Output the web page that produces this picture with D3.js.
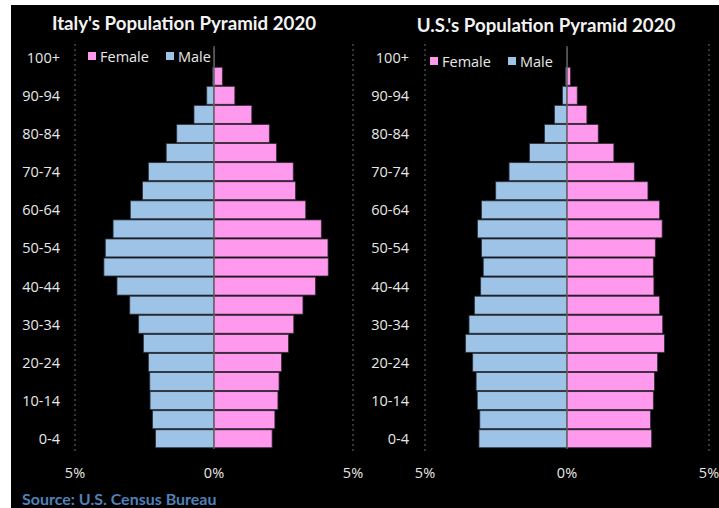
<!DOCTYPE html>
<html><head><meta charset="utf-8">
<script src="https://cdn.jsdelivr.net/npm/d3@7"></script>
<style>body{margin:0;background:#fff;}svg{display:block;}</style>
</head><body>
<svg id="c" width="719" height="508"></svg>
<script>
// ---- data (bottom row first) ----
const ageGroups = ["0-4","5-9","10-14","15-19","20-24","25-29","30-34","35-39","40-44","45-49",
  "50-54","55-59","60-64","65-69","70-74","75-79","80-84","85-89","90-94","95-99","100+"];
const tickLabels = ["0-4","10-14","20-24","30-34","40-44","50-54","60-64","70-74","80-84","90-94","100+"];
const xTicks = [-5, 0, 5];
const italyMale   = [2.10,2.21,2.30,2.31,2.36,2.54,2.71,3.03,3.49,3.96,3.91,3.63,3.01,2.57,2.36,1.72,1.34,0.72,0.26,0.05,0.00];
const italyFemale = [2.09,2.19,2.30,2.34,2.43,2.68,2.87,3.20,3.65,4.11,4.10,3.86,3.30,2.93,2.85,2.25,1.99,1.36,0.75,0.30,0.02];
const usMale      = [3.10,3.07,3.16,3.20,3.32,3.57,3.45,3.26,3.04,2.95,3.01,3.15,3.01,2.51,2.04,1.32,0.79,0.44,0.16,0.05,0.00];
const usFemale    = [2.98,2.94,3.04,3.08,3.19,3.43,3.37,3.26,3.06,3.04,3.11,3.35,3.26,2.85,2.37,1.65,1.10,0.70,0.36,0.12,0.01];
const titles = ["Italy's Population Pyramid 2020", "U.S.'s Population Pyramid 2020"];
const seriesNames = ["Female", "Male"];
const sourceText = "Source: U.S. Census Bureau";

const FEMALE = "#ff99ee", MALE = "#9dc3e6";
const FONT = "Lato, 'Open Sans', sans-serif";
const LFONT = "'Open Sans', Lato, sans-serif";

const svg = d3.select("#c");
svg.append("rect").attr("x", 11).attr("y", 5).attr("width", 708).attr("height", 503).attr("fill", "#000");

const y = d3.scaleBand().domain(ageGroups.slice().reverse()).range([47.6, 448.3]).paddingInner(0.06).paddingOuter(0.03);

function panel(cfg) {
  const g = svg.append("g");
  const x = d3.scaleLinear().domain([-5, 5]).range(cfg.range);
  // gridlines at +-5%
  g.selectAll("line.grid").data([-5, 5]).join("line")
    .attr("x1", d => x(d)).attr("x2", d => x(d)).attr("y1", 44).attr("y2", 452)
    .attr("stroke", "#5a5a5a").attr("stroke-width", 1.2).attr("stroke-dasharray", "2,3");
  // male bars
  g.selectAll("rect.m").data(ageGroups.map((a, i) => ({a, v: cfg.male[i]}))).join("rect")
    .attr("x", d => x(-d.v)).attr("width", d => x(0) - x(-d.v))
    .attr("y", d => y(d.a)).attr("height", y.bandwidth())
    .attr("fill", MALE).attr("stroke", "#2e3440").attr("stroke-width", 0.8);
  // female bars
  g.selectAll("rect.f").data(ageGroups.map((a, i) => ({a, v: cfg.female[i]}))).join("rect")
    .attr("x", x(0)).attr("width", d => x(d.v) - x(0))
    .attr("y", d => y(d.a)).attr("height", y.bandwidth())
    .attr("fill", FEMALE).attr("stroke", "#3a2a3a").attr("stroke-width", 0.8);
  // center axis
  g.append("line").attr("x1", x(0)).attr("x2", x(0)).attr("y1", 46).attr("y2", 449)
    .attr("stroke", "#6e6e6e").attr("stroke-width", 1.2);
  // y labels
  g.selectAll("text.yl").data(tickLabels).join("text")
    .attr("x", cfg.labelX).attr("y", d => y(d) + y.bandwidth() / 2)
    .attr("text-anchor", "end").attr("dominant-baseline", "central")
    .attr("fill", "#e8e8e8").attr("font-family", LFONT).attr("font-size", 14.5).text(d => d);
  // x labels
  g.selectAll("text.xl").data(xTicks).join("text")
    .attr("x", d => x(d)).attr("y", 472)
    .attr("text-anchor", "middle").attr("dominant-baseline", "central")
    .attr("fill", "#e8e8e8").attr("font-family", LFONT).attr("font-size", 14.5)
    .text(d => Math.abs(d) + "%");
  // title
  g.append("text").attr("x", cfg.titleX).attr("y", cfg.titleY)
    .attr("text-anchor", "middle").attr("dominant-baseline", "central")
    .attr("fill", "#f2f2f2").attr("font-family", FONT).attr("font-weight", "bold").attr("font-size", 18.7)
    .text(cfg.title);
  // legend
  const lg = g.append("g").attr("transform", `translate(${cfg.legX},${cfg.legY})`);
  const items = [{n: seriesNames[0], c: FEMALE, dx: 0}, {n: seriesNames[1], c: MALE, dx: 78}];
  items.forEach(it => {
    lg.append("rect").attr("x", it.dx).attr("y", -4).attr("width", 8).attr("height", 8).attr("fill", it.c);
    lg.append("text").attr("x", it.dx + 12).attr("y", 0).attr("dominant-baseline", "central")
      .attr("fill", "#e8e8e8").attr("font-family", LFONT).attr("font-size", 14.5).text(it.n);
  });
}

panel({range: [75, 353], male: italyMale, female: italyFemale, labelX: 60,
  title: titles[0], titleX: 184, titleY: 23, legX: 88, legY: 56});
panel({range: [425, 709], male: usMale, female: usFemale, labelX: 409,
  title: titles[1], titleX: 546, titleY: 25, legX: 430, legY: 61});

svg.append("text").attr("x", 22).attr("y", 498).attr("dominant-baseline", "central")
  .attr("fill", "#4f81b8").attr("font-family", FONT).attr("font-weight", "bold").attr("font-size", 16)
  .text(sourceText);
</script>
</body></html>
